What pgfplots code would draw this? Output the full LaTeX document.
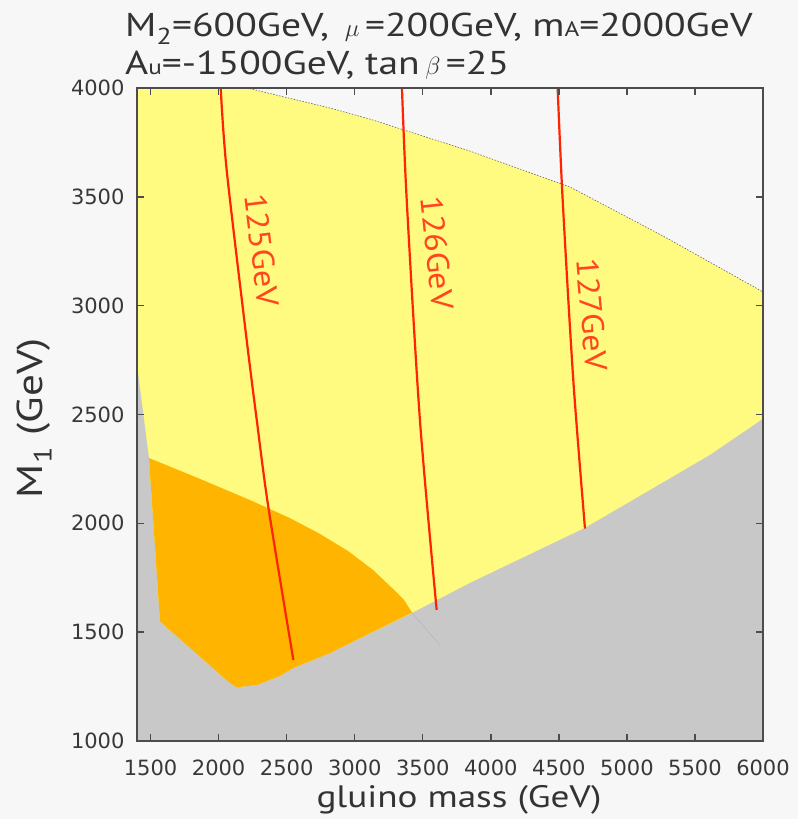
\documentclass[border=0pt]{standalone}
\usepackage{fontspec}
\usepackage{pgfplots}
\pgfplotsset{compat=1.18}
\newfontfamily\tickfont{DejaVu Sans}
\newfontfamily\labfont[FakeStretch=1.2]{PT Sans}
\newfontfamily\redfont[FakeStretch=1.1]{PT Sans}
\definecolor{bgc}{RGB}{247,247,247}
\definecolor{yel}{RGB}{255,250,128}
\definecolor{org}{RGB}{255,180,0}
\definecolor{gry}{RGB}{200,200,200}
\definecolor{redl}{RGB}{255,35,0}
\definecolor{redt}{RGB}{255,70,30}
\pgfplotsset{myframe/.style={
  at={(137pt,78pt)}, anchor=south west,
  scale only axis, width=626pt, height=653pt,
  xmin=1400, xmax=6000, ymin=1000, ymax=4000}}
\begin{document}
\begin{tikzpicture}
\fill[bgc] (0,0) rectangle (798pt,819pt);
\begin{axis}[myframe, hide axis, clip=false, unbounded coords=jump]
% yellow region
\addplot[fill=yel, draw=none] coordinates {
 (1400,1000) (1400,4000) (2208,4000) (2818,3908) (3112,3857) (3847,3710)
 (4582,3545) (5280,3315) (6000,3063) (6000,1000)};
% gray region
\addplot[fill=gry, draw=none] coordinates {
 (1400,1000) (1400,2727) (1488,2300) (1569,1550) (2083,1266) (2133,1247)
 (2280,1257) (2451,1299) (2546,1335) (2818,1404) (3421,1588) (3847,1726)
 (4692,1979) (5170,2153) (5610,2314) (6000,2480) (6000,1000)};
% orange region
\addplot[fill=org, draw=none] coordinates {
 (1488,2300) (1863,2204) (2230,2107) (2524,2024) (2745,1951) (2950,1873)
 (3134,1786) (3274,1703) (3362,1648) (3421,1590)
 (2818,1404) (2546,1335) (2451,1299) (2280,1257) (2133,1247)
 (2083,1266) (1569,1550)};
% top boundary
\addplot[draw=black!60, line width=0.6pt, dash pattern=on 1.5pt off 1.5pt] coordinates {
 (2208,4000) (2818,3908) (3112,3857) (3847,3710) (4582,3545) (5280,3315) (6000,3063)};
% faint line in gray
\addplot[draw=black!28, line width=0.6pt] coordinates {(3421,1588) (3626,1441)};
% Higgs mass contours
\addplot[redl, line width=2.2pt, smooth] coordinates {
 (2015,4000) (2059,3623) (2206,2842) (2280,2475) (2365,2075) (2549,1372)};
\addplot[redl, line width=2.2pt, smooth] coordinates {
 (3347,4000) (3382,3485) (3479,2475) (3602,1602)};
\addplot[redl, line width=2.2pt, smooth] coordinates {
 (4491,4000) (4528,3485) (4606,2658) (4692,1976)};
% tick marks
\addplot[draw=black!70, line width=1.4pt] coordinates {
 (1500,1000)(1500,1032)(1500,nan) (2000,1000)(2000,1032)(2000,nan)
 (2500,1000)(2500,1032)(2500,nan) (3000,1000)(3000,1032)(3000,nan)
 (3500,1000)(3500,1032)(3500,nan) (4000,1000)(4000,1032)(4000,nan)
 (4500,1000)(4500,1032)(4500,nan) (5000,1000)(5000,1032)(5000,nan)
 (5500,1000)(5500,1032)(5500,nan)
 (1500,4000)(1500,3968)(1500,nan) (2000,4000)(2000,3968)(2000,nan)
 (2500,4000)(2500,3968)(2500,nan) (3000,4000)(3000,3968)(3000,nan)
 (3500,4000)(3500,3968)(3500,nan) (4000,4000)(4000,3968)(4000,nan)
 (4500,4000)(4500,3968)(4500,nan) (5000,4000)(5000,3968)(5000,nan)
 (5500,4000)(5500,3968)(5500,nan)
 (1400,1500)(1451,1500)(nan,1500) (1400,2000)(1451,2000)(nan,2000)
 (1400,2500)(1451,2500)(nan,2500) (1400,3000)(1451,3000)(nan,3000)
 (1400,3500)(1451,3500)(nan,3500)
 (6000,1500)(5949,1500)(nan,1500) (6000,2000)(5949,2000)(nan,2000)
 (6000,2500)(5949,2500)(nan,2500) (6000,3000)(5949,3000)(nan,3000)
 (6000,3500)(5949,3500)(nan,3500)};
% frame
\addplot[draw=black!70, line width=2.2pt, line join=miter] coordinates {
 (1400,1000) (6000,1000) (6000,4000) (1400,4000) (1400,1000)} -- cycle;
\node[rotate=-83, text=redt, font=\fontsize{31}{31}\selectfont\redfont] at (axis cs:2319,3256) {125GeV};
\node[rotate=-84, text=redt, font=\fontsize{31}{31}\selectfont\redfont] at (axis cs:3604,3242) {126GeV};
\node[rotate=-85, text=redt, font=\fontsize{31}{31}\selectfont\redfont] at (axis cs:4743,2957) {127GeV};
\end{axis}
\begin{axis}[myframe,
  xtick={1500,2000,...,6000}, ytick={1000,1500,...,4000},
  major tick length=0pt,
  every tick/.append style={draw=none},
  axis line style={draw=none},
  scaled ticks=false,
  /pgf/number format/assume math mode=true,
  /pgf/number format/1000 sep={},
  tick label style={font=\fontsize{21}{21}\selectfont\tickfont, text=black!78},
  xticklabel style={yshift=-15pt},
  yticklabel style={xshift=-9pt},
]
\end{axis}
\node[font=\fontsize{31}{31}\selectfont\labfont, text=black!80] at (459pt,19pt) {gluino mass (GeV)};
\node[rotate=90, font=\fontsize{36}{36}\selectfont\labfont, text=black!80] at (34pt,401pt) {M\textsubscript{1} (GeV)};
\node[anchor=base west, inner sep=0pt, font=\fontsize{33}{33}\selectfont\labfont, text=black!80] at (125pt,782pt)
  {M\textsubscript{2}=600GeV, \,$\mu$\,=200GeV, m{\fontsize{21}{21}\selectfont A}=2000GeV};
\node[anchor=base west, inner sep=0pt, font=\fontsize{33}{33}\selectfont\labfont, text=black!80] at (125pt,744pt)
  {A{\fontsize{21}{21}\selectfont u}=-1500GeV, tan\,$\beta$\,=25};
\end{tikzpicture}
\end{document}
